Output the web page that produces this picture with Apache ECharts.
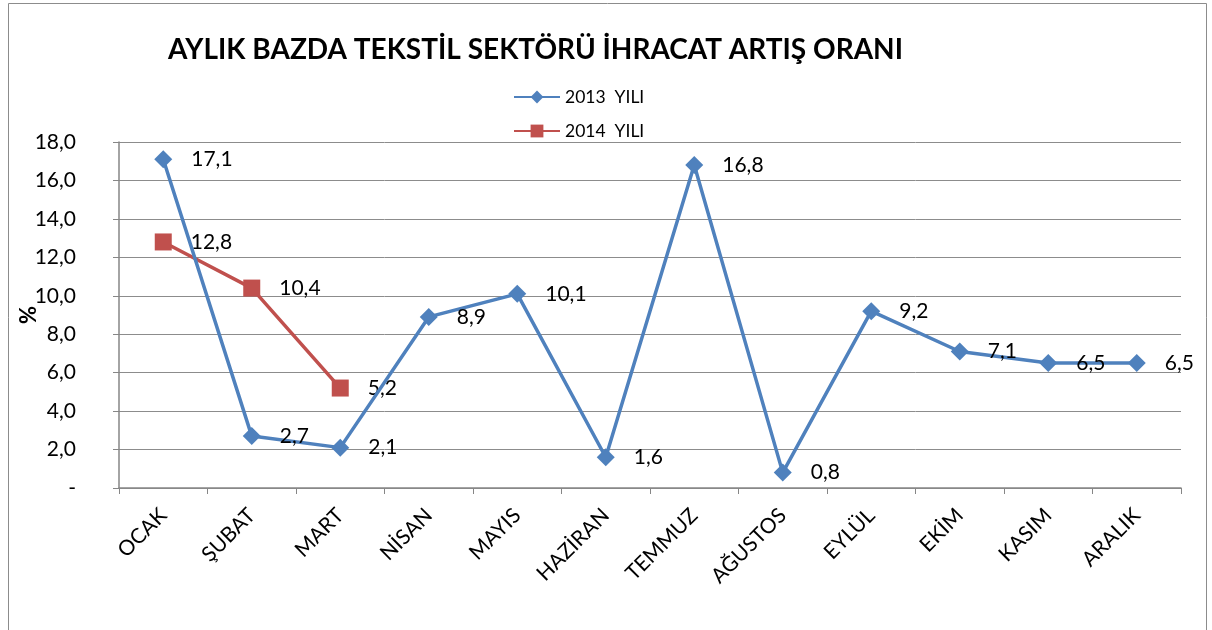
<!DOCTYPE html>
<html>
<head>
<meta charset="utf-8">
<script src="https://cdn.jsdelivr.net/npm/echarts@6/dist/echarts.min.js"></script>
<style>
html,body{margin:0;padding:0;background:#fff;}
#container{width:1212px;height:630px;}
</style>
</head>
<body>
<div id="container"></div>
<script>
var months = ['OCAK', 'ŞUBAT', 'MART', 'NİSAN', 'MAYIS', 'HAZİRAN', 'TEMMUZ', 'AĞUSTOS', 'EYLÜL', 'EKİM', 'KASIM', 'ARALIK'];
var yil2013 = [17.1, 2.7, 2.1, 8.9, 10.1, 1.6, 16.8, 0.8, 9.2, 7.1, 6.5, 6.5];
var yil2014 = [12.8, 10.4, 5.2];
var seriesNames = ['2013  YILI', '2014  YILI'];

var font = 'Lato, "Open Sans", "Liberation Sans", sans-serif';

function fmt(v){
	return v.toFixed(1).replace('.', ',');
}

var chart = echarts.init(document.getElementById('container'));
var option = {
	backgroundColor: '#fff',
	animation: false,
	graphic: [{
		type: 'rect',
		shape: {x: 8.5, y: 3.5, width: 1198, height: 650},
		style: {fill: 'none', stroke: '#8c8c8c', lineWidth: 1}
	}],
	title: {
		text: 'AYLIK BAZDA TEKSTİL SEKTÖRÜ İHRACAT ARTIŞ ORANI',
		left: 163,
		top: 31,
		textStyle: {fontFamily: font, fontSize: 28, fontWeight: 'bold', color: '#000'}
	},
	legend: {
		orient: 'vertical',
		left: 508,
		top: 83,
		itemWidth: 46,
		itemHeight: 16,
		itemGap: 16,
		textStyle: {fontFamily: font, fontSize: 17.5, color: '#000'},
		data: seriesNames
	},
	grid: {left: 119, right: 31, top: 142, bottom: 142, containLabel: false, outerBoundsMode: 'none'},
	xAxis: {
		type: 'category',
		data: months,
		boundaryGap: true,
		axisLine: {lineStyle: {color: '#868686', width: 1.5}},
		axisTick: {show: true, length: 6, lineStyle: {color: '#868686'}},
		axisLabel: {rotate: 45, fontFamily: font, fontSize: 21, color: '#000', margin: 24, interval: 0}
	},
	yAxis: {
		type: 'value',
		min: 0,
		max: 18,
		interval: 2,
		name: '%',
		nameLocation: 'middle',
		nameGap: 79,
		nameRotate: 90,
		nameMoveOverlap: false,
		nameTextStyle: {fontFamily: font, fontSize: 22, fontWeight: 'bold', color: '#000'},
		axisLine: {show: true, lineStyle: {color: '#868686', width: 1.5}},
		axisTick: {show: true, length: 6, lineStyle: {color: '#868686'}},
		splitLine: {lineStyle: {color: '#8c8c8c', width: 1}},
		axisLabel: {
			fontFamily: font, fontSize: 21, color: '#000', margin: 43,
			formatter: function(v){ return v === 0 ? '-' : fmt(v); }
		}
	},
	series: [{
		name: seriesNames[0],
		type: 'line',
		data: yil2013,
		color: '#4f81bd',
		symbol: 'diamond',
		symbolSize: 18,
		lineStyle: {width: 3.5, color: '#4f81bd'},
		itemStyle: {color: '#4f81bd'},
		label: {
			show: true, position: 'right', distance: 19,
			fontFamily: font, fontSize: 21, color: '#000',
			formatter: function(p){ return fmt(p.value); }
		},
		z: 3
	}, {
		name: seriesNames[1],
		type: 'line',
		data: yil2014,
		color: '#c0504d',
		symbol: 'rect',
		symbolSize: 17,
		lineStyle: {width: 3.5, color: '#c0504d'},
		itemStyle: {color: '#c0504d'},
		label: {
			show: true, position: 'right', distance: 19,
			fontFamily: font, fontSize: 21, color: '#000',
			formatter: function(p){ return fmt(p.value); }
		},
		z: 2
	}]
};
chart.setOption(option);
</script>
</body>
</html>
